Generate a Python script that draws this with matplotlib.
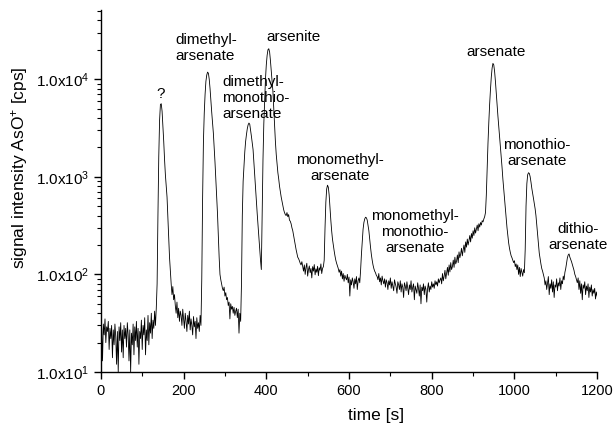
import matplotlib
matplotlib.use("Agg")
import matplotlib.pyplot as plt
from matplotlib.ticker import FixedLocator, LogLocator, NullFormatter, MultipleLocator

plt.rcParams['font.family'] = ['Liberation Sans', 'DejaVu Sans']
plt.rcParams['mathtext.fontset'] = 'custom'
plt.rcParams['mathtext.rm'] = 'Liberation Sans'
plt.rcParams['mathtext.it'] = 'Liberation Sans'
plt.rcParams['mathtext.bf'] = 'Liberation Sans'

# time [s], sampled every 2 s
time_s = list(range(0, 1201, 2))

signal = [
    # 0-134 baseline
    15, 28, 13, 31, 24, 35, 20, 29, 26, 33, 17, 28, 22, 30, 14, 27, 19, 31, 23, 12,
    26, 10, 29, 21, 32, 16, 27, 14, 30, 22, 28, 18, 32, 24, 13, 27, 10, 25, 19, 31,
    15, 29, 21, 33, 18, 28, 12, 26, 22, 34, 17, 30, 24, 36, 15, 27, 21, 38, 19, 32,
    25, 40, 22, 34, 28, 42, 30, 45,
    # 136-178 peak "?"
    80, 400, 1600, 3800, 5500, 5600, 4700, 3300, 2300, 1500, 1050, 800, 620, 380,
    220, 150, 110, 80, 62, 75, 55, 62,
    # 180-242
    48, 40, 52, 36, 45, 33, 42, 38, 30, 44, 35, 28, 40, 33, 26, 38, 31, 42, 27, 35,
    30, 24, 37, 29, 33, 22, 36, 28, 32, 26, 38, 30,
    # 244-294 dimethylarsenate
    90, 600, 2300, 4500, 7000, 9500, 11000, 11800, 11500, 10000, 8000, 6000, 4600,
    3600, 2800, 2000, 1400, 950, 650, 420, 250, 150, 100, 88, 80, 72,
    # 296-338
    68, 74, 60, 65, 55, 58, 48, 52, 35, 50, 44, 47, 40, 46, 38, 42, 45, 36, 44, 25,
    40, 33,
    # 340-390 dimethylmonothioarsenate
    80, 400, 900, 1300, 1800, 2300, 2700, 3100, 3400, 3550, 3450, 3000, 2600, 2200,
    1900, 1400, 1000, 750, 550, 420, 320, 250, 190, 140, 112, 400,
    # 392-488 arsenite
    1500, 3500, 6000, 10000, 14000, 17500, 20000, 20500, 19000, 15500,
    12000, 9500, 7500, 5000, 3200, 2300, 1700, 1350, 1100, 950,
    800, 700, 620, 560, 500, 460, 430, 410, 400, 430,
    390, 410, 360, 350, 330, 300, 280, 250, 220, 200,
    180, 165, 150, 145, 138, 130, 125, 135, 120,
    # 490-538
    108, 125, 100, 118, 130, 96, 112, 122, 104, 115, 92, 120, 108, 126, 99, 114,
    105, 121, 97, 117, 110, 128, 102, 115, 120,
    # 540-574 monomethylarsenate
    140, 300, 550, 750, 820, 780, 650, 480, 360, 280, 230, 200, 175, 155, 140, 130,
    122, 115,
    # 576-628
    105, 112, 96, 108, 90, 102, 85, 98, 92, 88, 100, 82, 94, 60, 88, 78, 92, 84, 72,
    90, 80, 95, 70, 86, 92, 82, 110,
    # 630-666 monomethylmonothioarsenate
    160, 220, 290, 340, 370, 385, 380, 360, 320, 280, 230, 190, 160, 140, 125, 115,
    108, 104, 98,
    # 668-820
    95, 88, 102, 84, 92, 78, 96, 86, 80, 90, 74, 88, 82, 70, 86, 78, 92, 72, 84, 76,
    68, 88, 80, 74, 64, 84, 78, 70, 86, 66, 80, 74, 58, 82, 76, 68, 84, 72, 62, 78,
    70, 86, 66, 74, 80, 55, 76, 70, 64, 82, 72, 60, 78, 50, 74, 68, 80, 62, 76, 70,
    52, 72, 82, 66, 76, 70, 84, 74, 80, 72, 86, 78, 84, 76, 90, 82, 88,
    # 822-930 rising
    92, 80, 102, 86, 96, 110, 90, 104, 118, 98, 125, 106, 132, 112, 120, 140, 118,
    150, 128, 136, 158, 132, 170, 148, 162, 185, 155, 178, 200, 168, 215, 190, 230,
    200, 222, 250, 215, 262, 235, 280, 250, 300, 265, 290, 320, 280, 330, 305, 340,
    320, 355, 345, 370, 390, 430,
    # 932-1026 arsenate
    650, 1200, 2200, 3600, 5500, 7800, 10500, 13000, 14500, 14000,
    12000, 9500, 7200, 5500, 4200, 3300, 2600, 2000, 1550, 1250,
    950, 750, 580, 460, 370, 300, 250, 210, 185, 168,
    155, 148, 140, 132, 138, 120, 128, 112, 125, 100,
    118, 95, 115, 105, 96, 112, 104, 180,
    # 1028-1070 monothioarsenate
    500, 850, 1050, 1100, 1080, 1000, 880, 760, 680, 600, 530, 470, 400, 320, 250,
    200, 165, 145, 128, 115, 108, 100,
    # 1072-1122
    92, 78, 86, 70, 82, 95, 62, 80, 72, 88, 66, 84, 58, 78, 74, 90, 68, 82, 76, 92,
    70, 86, 80, 96, 88, 105,
    # 1124-1150 dithioarsenate
    115, 130, 148, 158, 162, 150, 142, 135, 126, 118, 110, 100, 95, 88,
    # 1152-1200
    82, 92, 70, 86, 64, 80, 55, 78, 72, 84, 62, 76, 68, 80, 58, 74, 66, 78, 60, 70,
    64, 72, 56, 66, 60,
]

label_texts = ["?", "dimethyl-\narsenate", "dimethyl-\nmonothio-\narsenate",
               "arsenite", "monomethyl-\narsenate",
               "monomethyl-\nmonothio-\narsenate", "arsenate",
               "monothio-\narsenate", "dithio-\narsenate"]
label_x = [145, 179, 293, 465, 578, 760, 955, 1055, 1154]
label_y = [7000, 20700, 6380, 27000, 1225, 271, 18800, 1740, 240]
label_ha = ["center", "left", "left", "center", "center", "center", "center",
            "center", "center"]

ytick_vals = [10, 100, 1000, 10000]
ytick_labels = [r'1.0x10$^{1}$', r'1.0x10$^{2}$', r'1.0x10$^{3}$', r'1.0x10$^{4}$']

fig = plt.figure(figsize=(6.15, 4.25), dpi=100)
ax = fig.add_axes([0.164, 0.1247, 0.807, 0.851])
ax.plot(time_s, signal, color='black', lw=0.6)
ax.set_yscale('log')
ax.set_xlim(0, 1200)
ax.set_ylim(10, 5.07e4)

ax.xaxis.set_major_locator(MultipleLocator(200))
ax.xaxis.set_minor_locator(MultipleLocator(100))
ax.yaxis.set_major_locator(FixedLocator(ytick_vals))
ax.set_yticklabels(ytick_labels)
ax.yaxis.set_minor_locator(LogLocator(base=10, subs=range(2, 10)))
ax.yaxis.set_minor_formatter(NullFormatter())

for s in ['top', 'right']:
    ax.spines[s].set_visible(False)
for s in ['left', 'bottom']:
    ax.spines[s].set_linewidth(1.0)

ax.tick_params(axis='both', which='major', direction='out', length=5, width=1.0)
ax.tick_params(axis='x', which='major', labelsize=10.5)
ax.tick_params(axis='y', which='major', labelsize=11)
ax.tick_params(axis='both', which='minor', direction='out', length=3, width=0.8)

ax.set_xlabel('time [s]', fontsize=12.5)
ax.xaxis.set_label_coords(0.554, -0.1)
ax.set_ylabel(r'signal intensity AsO$^{+}$ [cps]', fontsize=12.5)
ax.yaxis.set_label_coords(-0.143, 0.564)

for txt, x, y, ha in zip(label_texts, label_x, label_y, label_ha):
    ax.text(x, y, txt, ha=ha, va='center', fontsize=11, linespacing=1.18,
            multialignment='left' if ha == 'left' else 'center')

fig.savefig('out.png', dpi=100)
